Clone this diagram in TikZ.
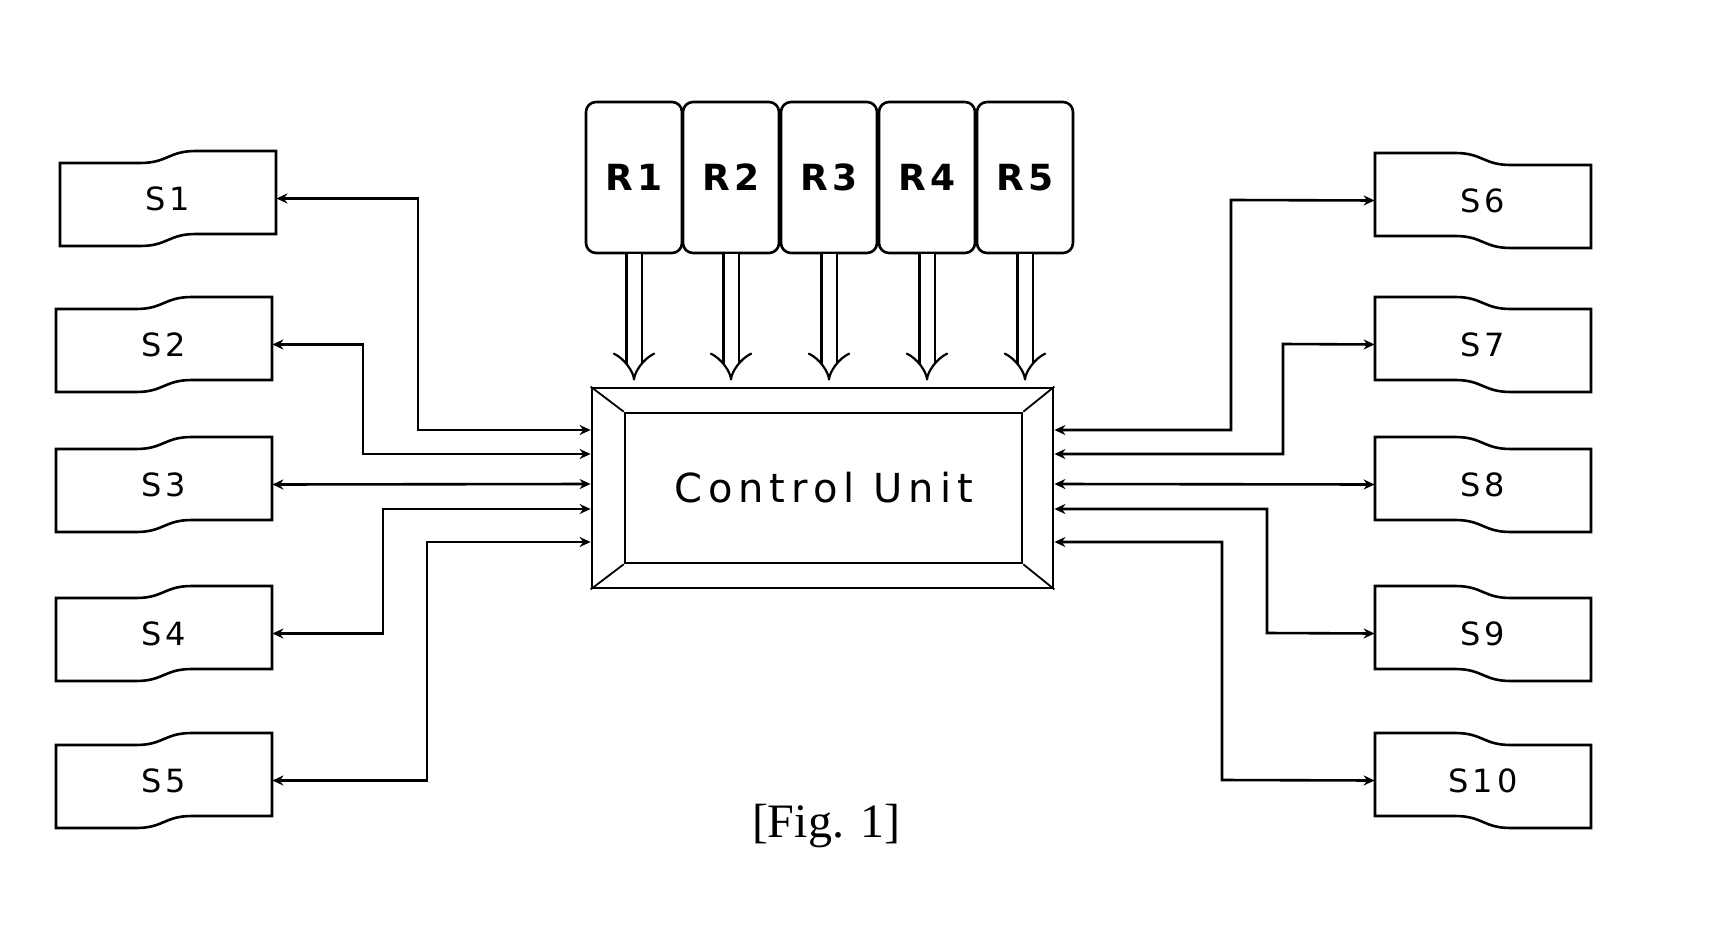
\documentclass[tikz,border=0pt]{standalone}
\usepackage{fontspec}
\setmainfont{Liberation Serif}
\newfontfamily\lblfont[LetterSpace=12]{DejaVu Sans}
\newfontfamily\cufont[LetterSpace=15]{DejaVu Sans}
\usetikzlibrary{arrows.meta}
\newcommand\lefttape[4]{%
  \draw[outline,shift={(#2,#3)}] (0,12) -- (80,12) .. controls (108,12) and (108,0) .. (136,0) -- (216,0) -- (216,83) -- (136,83) .. controls (108,83) and (108,95) .. (80,95) -- (0,95) -- cycle;
  \node[sbox] (#1) at ([shift={(108,47.5)}]#2,#3) {#4};}
\newcommand\righttape[4]{%
  \draw[outline,shift={(#2,#3)}] (0,0) -- (80,0) .. controls (108,0) and (108,12) .. (136,12) -- (216,12) -- (216,95) -- (136,95) .. controls (108,95) and (108,83) .. (80,83) -- (0,83) -- cycle;
  \node[sbox] (#1) at ([shift={(108,47.5)}]#2,#3) {#4};}
\begin{document}
\begin{tikzpicture}[x=0.5pt,y=-0.5pt,
  outline/.style={draw=black, line width=1.3pt},
  sbox/.style={minimum width=108pt, minimum height=47.5pt, inner sep=0pt, font=\lblfont\fontsize{16}{18}\selectfont},
  rbox/.style={draw=black, line width=1.3pt, rounded corners=5pt, minimum width=48pt, minimum height=75.5pt, inner sep=0pt, font=\lblfont\bfseries\fontsize{18}{20}\selectfont},
  link/.style={draw=black, line width=1.3pt, {Stealth[length=5.5pt,width=5pt]}-{Stealth[length=5.5pt,width=5pt]}},
  feed/.style={draw=black, line width=1.1pt, double, double distance=6.5pt, -{Implies}, shorten >=3pt},
]
\useasboundingbox (0,0) rectangle (1727,925);

% sensors left
\lefttape{S1}{60}{151}{S1}
\lefttape{S2}{56}{297}{S2}
\lefttape{S3}{56}{437}{S3}
\lefttape{S4}{56}{586}{S4}
\lefttape{S5}{56}{733}{S5}
% sensors right
\righttape{S6}{1375}{153}{S6}
\righttape{S7}{1375}{297}{S7}
\righttape{S8}{1375}{437}{S8}
\righttape{S9}{1375}{586}{S9}
\righttape{S10}{1375}{733}{S10}

% R boxes
\node[rbox] (R1) at (634,177.5) {R1};
\node[rbox] (R2) at (731,177.5) {R2};
\node[rbox] (R3) at (829,177.5) {R3};
\node[rbox] (R4) at (927,177.5) {R4};
\node[rbox] (R5) at (1025,177.5) {R5};

% control unit
\node[draw=black, line width=1.4pt, minimum width=230.5pt, minimum height=100pt, inner sep=0pt] (CU) at (822.5,488) {};
\node[draw=black, line width=1.3pt, minimum width=198.5pt, minimum height=75pt, inner sep=0pt, font=\cufont\fontsize{20}{22}\selectfont] (CUi) at (823.5,488) {Control Unit};
\draw[line width=0.9pt] (CU.north west) -- (CUi.north west);
\draw[line width=0.9pt] (CU.north east) -- (CUi.north east);
\draw[line width=0.9pt] (CU.south west) -- (CUi.south west);
\draw[line width=0.9pt] (CU.south east) -- (CUi.south east);

% R feeds
\foreach \r in {R1,R2,R3,R4,R5}
  \draw[feed] (\r.south) -- (\r.south |- CU.north);

% left connectors
\draw[link] (S1.east) -| (418,430) -- ([yshift=29pt]CU.west);
\draw[link] (S2.east) -| (363,454) -- ([yshift=17pt]CU.west);
\draw[link] (S3.east) -- ([yshift=2pt]CU.west);
\draw[link] (S4.east) -| (383,509) -- ([yshift=-10.5pt]CU.west);
\draw[link] (S5.east) -| (427,542) -- ([yshift=-27pt]CU.west);
% right connectors
\draw[link] ([yshift=29pt]CU.east) -| (1231,200) -- (S6.west);
\draw[link] ([yshift=17pt]CU.east) -| (1283,344) -- (S7.west);
\draw[link] ([yshift=2pt]CU.east) -- (S8.west);
\draw[link] ([yshift=-10.5pt]CU.east) -| (1267,633) -- (S9.west);
\draw[link] ([yshift=-27pt]CU.east) -| (1222,780) -- (S10.west);

\node[font=\fontsize{24}{26}\selectfont, inner sep=0pt] (cap) at (826,826) {[Fig. 1]};
\end{tikzpicture}
\end{document}
